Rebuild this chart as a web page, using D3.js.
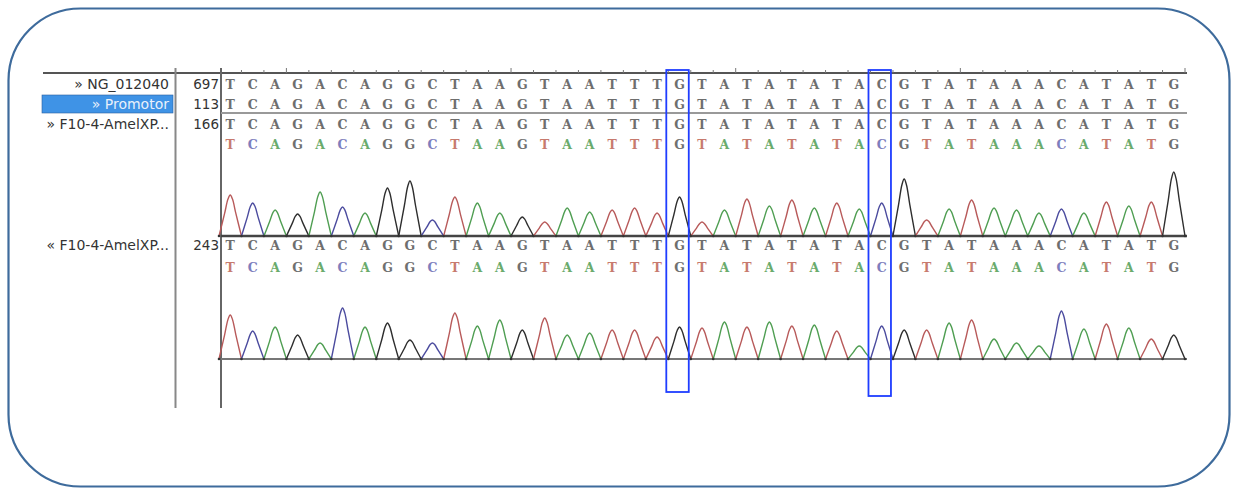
<!DOCTYPE html>
<html>
<head>
<meta charset="utf-8">
<script src="https://cdn.jsdelivr.net/npm/d3@7"></script>
<style>
  body { margin: 0; background: #fff; }
  text { font-family: "DejaVu Sans", sans-serif; }
  .base { font-family: "DejaVu Serif", "Liberation Serif", serif; font-size: 12.5px; font-weight: bold; }
</style>
</head>
<body>
<div id="chart"></div>
<script>
// reference / read sequence
const bases = 'TCAGACAGGCTAAGTAATTTGTATATATACGTATAAACATATG'.split('')

// row labels and start positions
const rowNames = ['» NG_012040', '» Promotor', '» F10-4-AmelXP...', '« F10-4-AmelXP...']
const rowStarts = ['697', '113', '166', '243']

// highlighted positions (index into bases)
const marked = [20, 29]

// peak heights, forward read (one per base)
const peaksFwd = [41, 33, 26, 22, 44, 29, 23, 48, 55, 16, 39, 33, 23, 19, 14, 28, 24, 26, 28, 23,
  39, 14, 26, 37, 30, 36, 28, 33, 27, 33, 57, 16, 27, 36, 28, 26, 23, 27, 23, 34, 30, 34, 64]

// peak heights, reverse read
const peaksRev = [44, 28, 32, 24, 16, 51, 32, 36, 19, 16, 46, 33, 39, 29, 41, 24, 26, 29, 29, 22,
  32, 31, 37, 32, 37, 33, 34, 28, 13, 33, 29, 29, 36, 39, 20, 16, 13, 48, 30, 35, 31, 20, 24]

const traceColor = { A: '#4f9e52', C: '#4b4b9e', G: '#2e2e2e', T: '#b85a5a' }
const letterColor = { A: '#6aab6c', C: '#7e7ebd', G: '#707070', T: '#c77a6e' }

const width = 1233
const height = 489

const svg = d3.select('#chart')
  .append('svg')
  .attr('width', width)
  .attr('height', height)

// outer frame
svg.append('rect')
  .attr('x', 8.5)
  .attr('y', 8.5)
  .attr('width', 1221)
  .attr('height', 478)
  .attr('rx', 72)
  .attr('ry', 72)
  .attr('fill', 'none')
  .attr('stroke', '#3e6b9c')
  .attr('stroke-width', 2.2)

const x = d3.scaleBand()
  .domain(d3.range(bases.length))
  .range([219, 1185])
  .paddingInner(0)
const bw = x.bandwidth()
const cx = i => x(i) + bw / 2
const seqLeft = 221
const seqRight = 1187

// grid lines
svg.append('line')
  .attr('x1', 43).attr('x2', seqRight)
  .attr('y1', 73).attr('y2', 73)
  .attr('stroke', '#555').attr('stroke-width', 2)
svg.append('line')
  .attr('x1', 175.5).attr('x2', 175.5)
  .attr('y1', 68).attr('y2', 408)
  .attr('stroke', '#888').attr('stroke-width', 2)
svg.append('line')
  .attr('x1', seqLeft).attr('x2', seqLeft)
  .attr('y1', 68).attr('y2', 408)
  .attr('stroke', '#666').attr('stroke-width', 2)
svg.append('line')
  .attr('x1', seqLeft).attr('x2', seqRight)
  .attr('y1', 113).attr('y2', 113)
  .attr('stroke', '#999').attr('stroke-width', 2)

// ruler ticks
svg.append('g')
  .selectAll('line')
  .data(d3.range(1, bases.length + 1))
  .join('line')
  .attr('x1', d => x(d - 1) + bw).attr('x2', d => x(d - 1) + bw)
  .attr('y1', 73)
  .attr('y2', d => (d % 10 === 3 ? 68 : 70))
  .attr('stroke', '#777')
  .attr('stroke-width', 1)

// label column
const labelY = [84, 104, 124, 245]
svg.append('rect')
  .attr('x', 42).attr('y', 95)
  .attr('width', 131).attr('height', 18)
  .attr('fill', '#3f93e6')
  .attr('stroke', '#2a5f9e')
  .attr('stroke-width', 0.6)

svg.append('g')
  .selectAll('text')
  .data(rowNames)
  .join('text')
  .attr('x', 169)
  .attr('y', (d, i) => labelY[i])
  .attr('dy', '0.35em')
  .attr('text-anchor', 'end')
  .attr('font-size', 14)
  .attr('fill', (d, i) => (i === 1 ? '#e8f0fb' : '#333'))
  .text(d => d)

svg.append('g')
  .selectAll('text')
  .data(rowStarts)
  .join('text')
  .attr('x', 219)
  .attr('y', (d, i) => labelY[i])
  .attr('dy', '0.35em')
  .attr('text-anchor', 'end')
  .attr('font-size', 13.5)
  .attr('fill', '#333')
  .text(d => d)

// sequence rows
const seqRows = [
  { y: 84, color: false },
  { y: 104, color: false },
  { y: 124, color: false },
  { y: 144, color: true },
  { y: 245, color: false },
  { y: 267, color: true }
]
seqRows.forEach(r => {
  svg.append('g')
    .selectAll('text')
    .data(bases)
    .join('text')
    .attr('class', 'base')
    .attr('x', (d, i) => cx(i))
    .attr('y', r.y)
    .attr('dy', '0.36em')
    .attr('text-anchor', 'middle')
    .attr('fill', d => (r.color ? letterColor[d] : '#6e6e6e'))
    .text(d => d)
})

// chromatograms
function drawTrace (peaks, baseline, axisColor, axisWidth) {
  const y = d3.scaleLinear().domain([0, 70]).range([baseline, baseline - 70])
  const line = d3.line()
    .x(p => p[0])
    .y(p => y(p[1]))
    .curve(d3.curveCatmullRom.alpha(0.5))
  const offs = [-1, -0.5, -0.2, 0, 0.2, 0.5, 1]
  const frac = [0, 0.55, 0.9, 1, 0.9, 0.55, 0]
  const g = svg.append('g')
  g.append('line')
    .attr('x1', seqLeft).attr('x2', seqRight)
    .attr('y1', baseline).attr('y2', baseline)
    .attr('stroke', axisColor).attr('stroke-width', axisWidth)
  g.selectAll('path')
    .data(peaks)
    .join('path')
    .attr('d', (h, i) => line(offs.map((o, k) => [cx(i) + o * bw / 2, h * frac[k]])))
    .attr('fill', 'none')
    .attr('stroke', (h, i) => traceColor[bases[i]])
    .attr('stroke-width', 1.4)
  g.selectAll('circle')
    .data(d3.range(peaks.length + 1))
    .join('circle')
    .attr('cx', i => x(0) + i * bw)
    .attr('cy', baseline)
    .attr('r', 1.3)
    .attr('fill', '#333')
}
drawTrace(peaksFwd, 236, '#444', 2.5)
drawTrace(peaksRev, 359, '#777', 2)

// highlight boxes
const boxBottom = [392, 396]
svg.append('g')
  .selectAll('rect')
  .data(marked)
  .join('rect')
  .attr('x', i => x(i) - 2)
  .attr('y', 70)
  .attr('width', bw)
  .attr('height', (d, k) => boxBottom[k] - 70)
  .attr('fill', 'none')
  .attr('stroke', '#1f3dff')
  .attr('stroke-width', 1.8)
</script>
</body>
</html>
